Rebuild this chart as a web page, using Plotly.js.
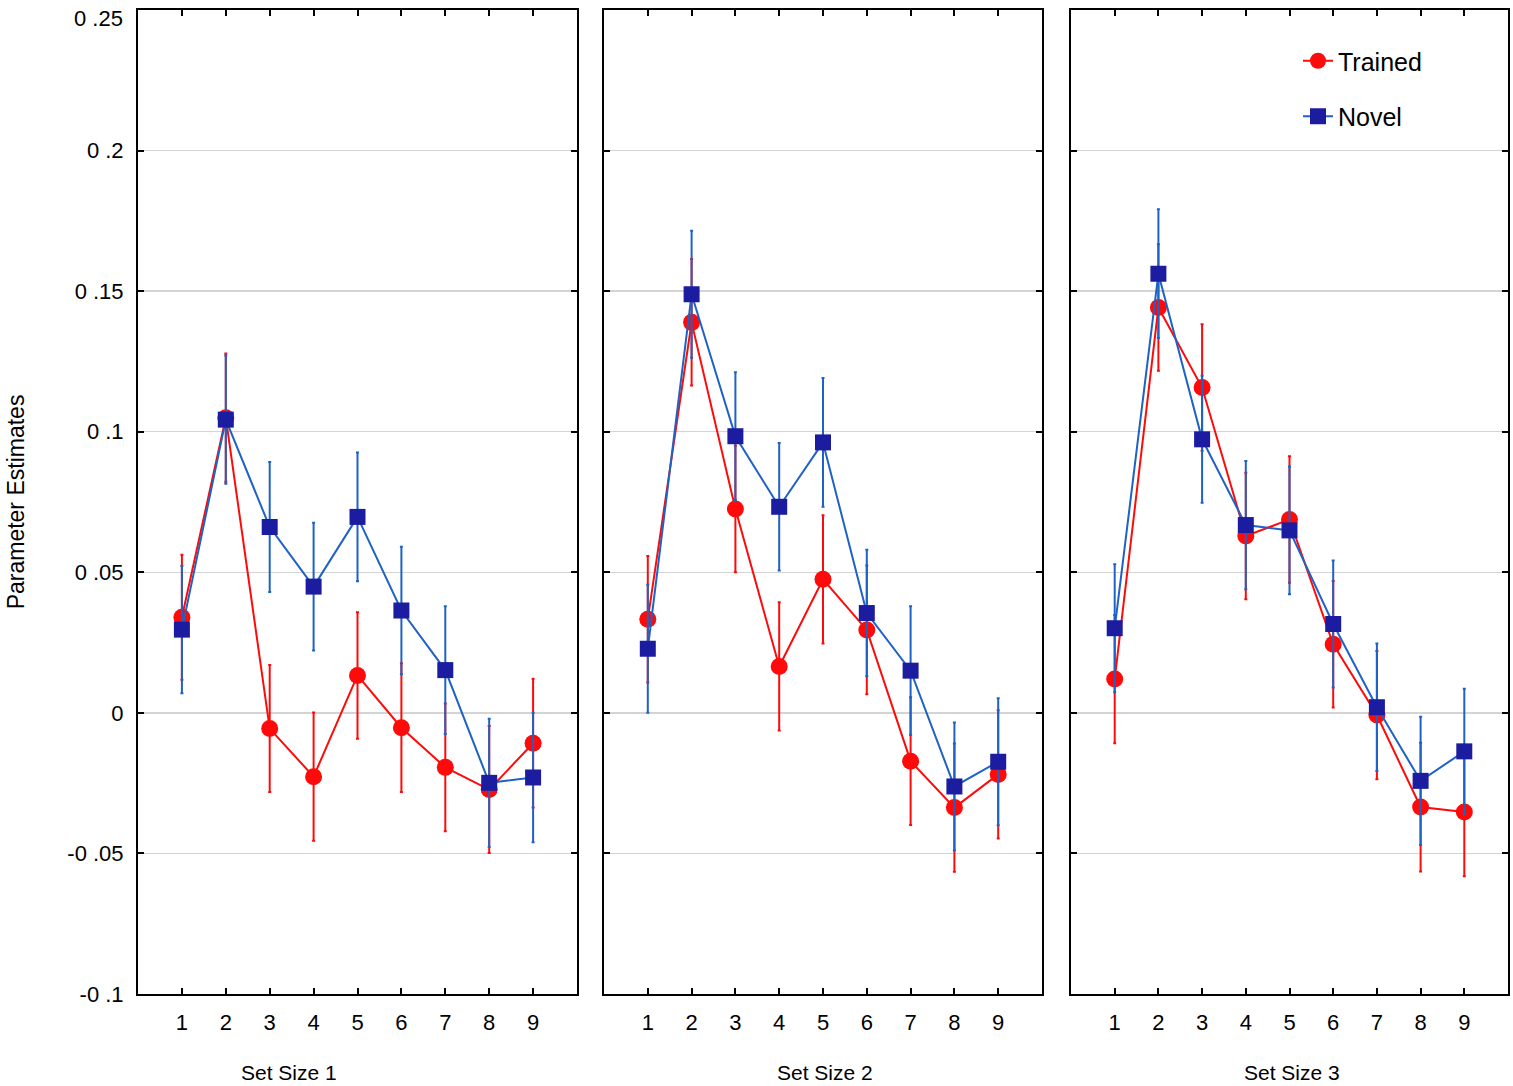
<!DOCTYPE html>
<html>
<head>
<meta charset="utf-8">
<script src="https://cdn.plot.ly/plotly-3.0.1.min.js"></script>
<style>
  html, body { margin: 0; padding: 0; background: #fff; }
  #chart { width: 1513px; height: 1086px; }
</style>
</head>
<body>
<div id="chart"></div>
<script>
// serial position on the x axis
const positions = [1, 2, 3, 4, 5, 6, 7, 8, 9];
const panelTitles = ['Set Size 1', 'Set Size 2', 'Set Size 3'];

// Trained, per set size
const trained1 = [0.034, 0.105, -0.0056, -0.0227, 0.0133, -0.0053, -0.0194, -0.0273, -0.0108];
const trained2 = [0.0333, 0.1389, 0.0725, 0.0165, 0.0475, 0.0295, -0.0172, -0.0337, -0.0219];
const trained3 = [0.012, 0.1442, 0.1157, 0.0629, 0.0688, 0.0244, -0.0008, -0.0335, -0.0353];
const trainedErr1 = [0.0222, 0.0228, 0.0226, 0.0228, 0.0225, 0.0229, 0.0227, 0.0226, 0.0229];
const trainedErr2 = [0.0225, 0.0225, 0.0225, 0.0228, 0.0228, 0.0229, 0.0227, 0.0228, 0.0228];
const trainedErr3 = [0.0228, 0.0225, 0.0225, 0.0225, 0.0225, 0.0225, 0.0228, 0.0229, 0.0228];

// Novel, per set size
const novel1 = [0.0296, 0.1043, 0.0661, 0.0449, 0.0697, 0.0364, 0.0152, -0.0249, -0.023];
const novel2 = [0.0228, 0.1489, 0.0984, 0.0733, 0.0962, 0.0355, 0.015, -0.0262, -0.0174];
const novel3 = [0.0301, 0.1562, 0.0973, 0.0668, 0.0649, 0.0316, 0.002, -0.0242, -0.0137];
const novelErr1 = [0.0226, 0.0228, 0.0231, 0.0227, 0.0229, 0.0227, 0.0227, 0.0228, 0.023];
const novelErr2 = [0.0228, 0.0226, 0.0228, 0.0227, 0.0229, 0.0225, 0.0229, 0.0228, 0.0226];
const novelErr3 = [0.0228, 0.0229, 0.0226, 0.0228, 0.0227, 0.0226, 0.0227, 0.0228, 0.0223];

// y tick labels as printed in the figure (top one is placed as a note so it isn't clipped)
const yTickVals = [0.25, 0.2, 0.15, 0.1, 0.05, 0, -0.05, -0.1];
const yTickText = ['', '0 .2', '0 .15', '0 .1', '0 .05', '0', '-0 .05', '-0 .1'];
const yTopLabel = '0 .25';

const RED = '#ff0a0a';
const LINE_BLUE = '#1f62c6';
const NAVY = '#1c1ca0';
const FONT = 'Liberation Sans, Arial, sans-serif';

const trainedSets = [[trained1, trainedErr1], [trained2, trainedErr2], [trained3, trainedErr3]];
const novelSets = [[novel1, novelErr1], [novel2, novelErr2], [novel3, novelErr3]];

const data = [];
trainedSets.forEach(([vals, err], i) => {
  const n = i === 0 ? '' : String(i + 1);
  data.push({
    type: 'scatter', mode: 'lines+markers', name: 'Trained',
    x: positions, y: vals, xaxis: 'x' + n, yaxis: 'y' + n,
    legendgroup: 'trained', showlegend: i === 0,
    line: { color: RED, width: 2 },
    marker: { symbol: 'circle', size: 17, color: RED },
    error_y: { type: 'data', array: err, visible: true, color: RED, thickness: 2, width: 1.5 }
  });
});
novelSets.forEach(([vals, err], i) => {
  const n = i === 0 ? '' : String(i + 1);
  data.push({
    type: 'scatter', mode: 'lines+markers', name: 'Novel',
    x: positions, y: vals, xaxis: 'x' + n, yaxis: 'y' + n,
    legendgroup: 'novel', showlegend: i === 0,
    line: { color: LINE_BLUE, width: 2 },
    marker: { symbol: 'square', size: 16, color: NAVY },
    error_y: { type: 'data', array: err, visible: true, color: LINE_BLUE, thickness: 2, width: 1.5 }
  });
});

// panel placement in paper fractions (plot areas of the original)
const W = 1513, H = 1086;
const xDomains = [[138 / W, 577 / W], [604 / W, 1042 / W], [1071 / W, 1508 / W]];
const yDomain = [1 - 994 / H, 1 - 10 / H];

function xAxis(dom) {
  return {
    domain: dom, range: [0, 10], tickvals: positions,
    showline: true, linecolor: '#000', linewidth: 2, mirror: 'ticks',
    ticks: 'inside', ticklen: 6, tickwidth: 2, tickcolor: '#000',
    showgrid: false, zeroline: false, fixedrange: true,
    tickfont: { family: FONT, size: 22, color: '#000' },
    ticklabelstandoff: 8
  };
}
function yAxis(anchor, withLabels) {
  return {
    domain: yDomain, range: [-0.10002, 0.25002], anchor: anchor,
    tickvals: yTickVals, ticktext: yTickText, showticklabels: withLabels,
    showline: true, linecolor: '#000', linewidth: 2, mirror: 'ticks',
    ticks: 'inside', ticklen: 6, tickwidth: 2, tickcolor: '#000',
    showgrid: true, gridcolor: '#d4d4d4', gridwidth: 1.5,
    zeroline: false, fixedrange: true,
    tickfont: { family: FONT, size: 22, color: '#000' },
    ticklabelstandoff: 8
  };
}

const titleNotes = [
  { text: panelTitles[0], xref: 'x domain', x: 0.344 },
  { text: panelTitles[1], xref: 'x2 domain', x: 0.505 },
  { text: panelTitles[2], xref: 'x3 domain', x: 0.506 }
].map(a => Object.assign(a, {
  yref: 'paper', y: 1 - 1072 / H, xanchor: 'center', yanchor: 'middle',
  showarrow: false, font: { family: FONT, size: 21, color: '#000' }
}));

const layout = {
  width: W, height: H,
  margin: { l: 0, r: 0, t: 0, b: 0 },
  paper_bgcolor: '#fff', plot_bgcolor: '#fff',
  font: { family: FONT, color: '#000' },
  showlegend: true,
  legend: {
    x: 1298 / W, y: 1 - 38 / H, xanchor: 'left', yanchor: 'top',
    font: { family: FONT, size: 25, color: '#000' },
    bgcolor: 'rgba(0,0,0,0)', tracegroupgap: 20
  },
  xaxis: Object.assign(xAxis(xDomains[0]), { anchor: 'y' }),
  xaxis2: Object.assign(xAxis(xDomains[1]), { anchor: 'y2' }),
  xaxis3: Object.assign(xAxis(xDomains[2]), { anchor: 'y3' }),
  yaxis: Object.assign(yAxis('x', true), {
    title: { text: 'Parameter Estimates', font: { family: FONT, size: 23, color: '#000' }, standoff: 36 }
  }),
  yaxis2: yAxis('x2', false),
  yaxis3: yAxis('x3', false),
  annotations: titleNotes.concat([{
    text: yTopLabel, xref: 'paper', x: 125 / W, xanchor: 'right',
    yref: 'y', y: yTickVals[0], yanchor: 'top', yshift: 6,
    showarrow: false, font: { family: FONT, size: 22, color: '#000' }
  }])
};

Plotly.newPlot('chart', data, layout, { displayModeBar: false, staticPlot: true });
</script>
</body>
</html>
